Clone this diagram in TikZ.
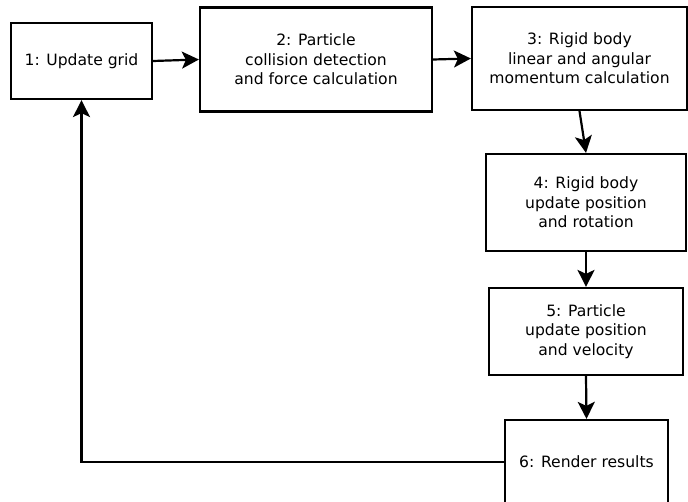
\documentclass[tikz,border=0pt]{standalone}
\usepackage{fontspec}
\setmainfont{DejaVu Sans}
\usetikzlibrary{arrows.meta}
\begin{document}
\begin{tikzpicture}[x=1pt,y=-1pt,
  stepbox/.style={draw=black, line width=2.2pt, fill=white, align=center,
    inner sep=0pt, font=\fontsize{15.6}{19.6}\selectfont},
  flow/.style={line width=2.2pt, -{Stealth[length=17pt,width=17pt,inset=4pt]}}]
  \clip (0,0) rectangle (688,502);
  \node[stepbox, minimum width=141pt, minimum height=76pt] (b1) at (81.5,61) {1: Update grid};
  \node[stepbox, minimum width=232pt, minimum height=104pt] (b2) at (316,59.5)
    {2: Particle\\collision detection\\and force calculation};
  \node[stepbox, minimum width=215pt, minimum height=103pt] (b3) at (579.5,58.5)
    {3: Rigid body\\linear and angular\\momentum calculation};
  \node[stepbox, minimum width=200pt, minimum height=97pt] (b4) at (586,202.5)
    {4: Rigid body\\update position\\and rotation};
  \node[stepbox, minimum width=194pt, minimum height=87pt] (b5) at (586,331.5)
    {5: Particle\\update position\\and velocity};
  \node[stepbox, minimum width=163pt, minimum height=84pt] (b6) at (586.5,462)
    {6: Render results};
  \draw[flow] (b1.east) -- (b2.west);
  \draw[flow] (b2.east) -- (b3.west);
  \draw[flow] (b3.south) -- (b4.north);
  \draw[flow] (b4.south) -- (b5.north);
  \draw[flow] (b5.south) -- (b6.north);
  \draw[flow] (b6.west) -| (b1.south);
\end{tikzpicture}
\end{document}
